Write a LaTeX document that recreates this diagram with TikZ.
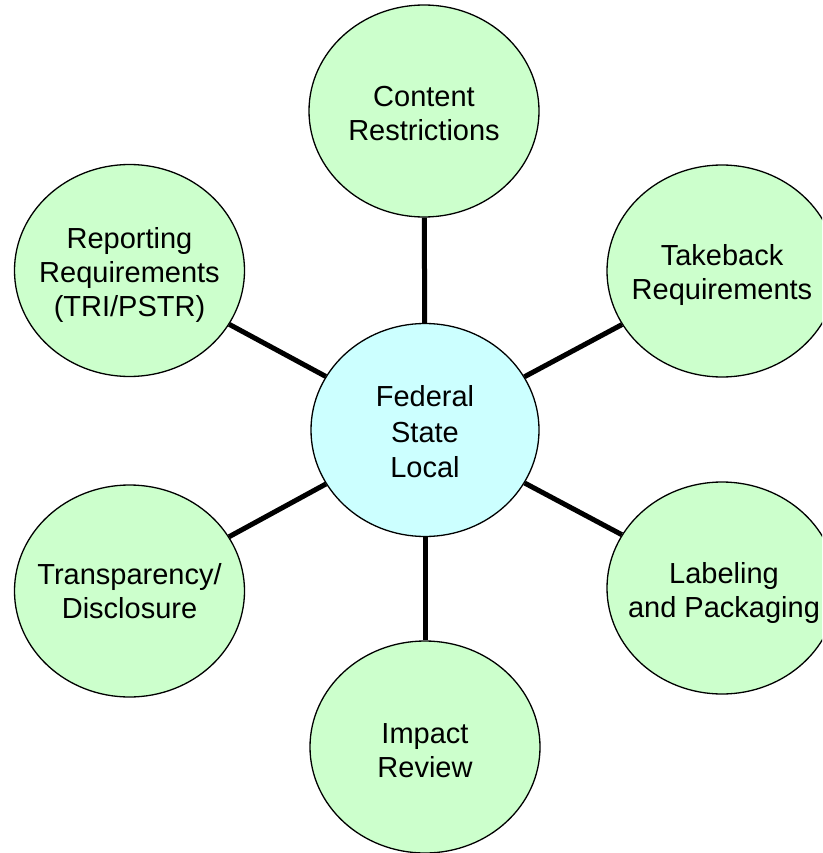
\documentclass[tikz,border=0pt]{standalone}
\usepackage{fontspec}
\setmainfont{Liberation Sans}
\usetikzlibrary{shapes.geometric}
\definecolor{bubgreen}{HTML}{CCFFCC}
\definecolor{bubcyan}{HTML}{CCFFFF}
\begin{document}
\begin{tikzpicture}[x=1pt,y=-1pt,
  bubble/.style={ellipse, draw=black, line width=1.3pt, fill=bubgreen,
    minimum width=230pt, minimum height=212pt, inner sep=0pt},
  hub/.style={bubble, fill=bubcyan, minimum width=228pt, minimum height=213pt},
  txt/.style={align=center, font=\fontsize{29}{34}\selectfont, inner sep=0pt},
  spoke/.style={line width=5pt}]
\useasboundingbox (0,0) rectangle (822,853);
\clip (0,0) rectangle (822,853);
\node[hub] (hub) at (425,430) {};
\node[bubble] (top) at (424,111) {};
\node[bubble] (take) at (722,271) {};
\node[bubble] (label) at (722,588) {};
\node[bubble] (impact) at (425,747) {};
\node[bubble] (transp) at (129.5,591) {};
\node[bubble] (report) at (129.5,270.5) {};
\draw[spoke] (hub) -- (top);
\draw[spoke] (hub) -- (take);
\draw[spoke] (hub) -- (label);
\draw[spoke] (hub) -- (impact);
\draw[spoke] (hub) -- (transp);
\draw[spoke] (hub) -- (report);
\node[txt, font=\fontsize{29}{35.5}\selectfont] (hubtxt) at (425,432) {Federal\\State\\Local};
\node[txt] (toptxt) at (424,114) {Content\\Restrictions};
\node[txt] (taketxt) at (722,275) {Takeback\\Requirements};
\node[txt] (labeltxt) at (724,593) {Labeling\\and Packaging};
\node[txt] (impacttxt) at (425,751) {Impact\\Review};
\node[txt] (transptxt) at (129.5,591) {Transparency/\\Disclosure};
\node[txt] (reporttxt) at (129.5,275) {Reporting\\Requirements\\(TRI/PSTR)};
\end{tikzpicture}
\end{document}
